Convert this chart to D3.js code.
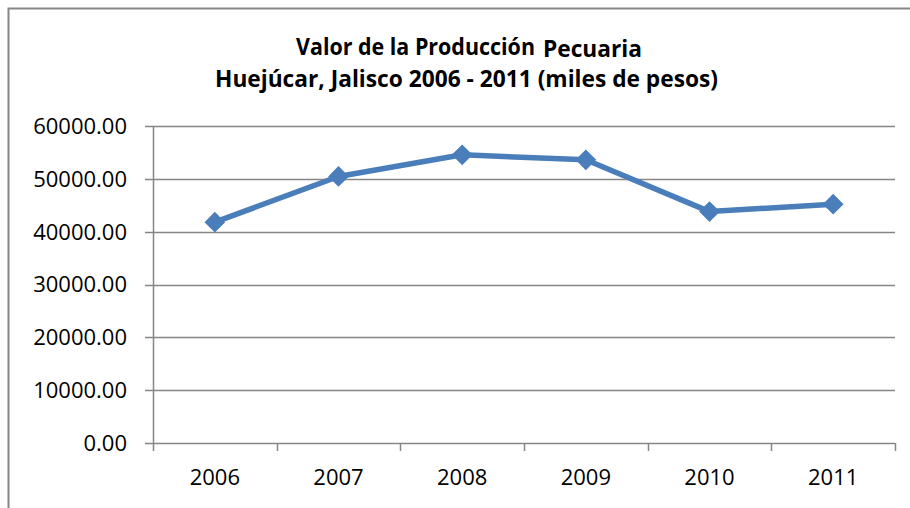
<!DOCTYPE html>
<html>
<head>
<meta charset="utf-8">
<script src="https://cdn.jsdelivr.net/npm/d3@7"></script>
<style>
  body { margin: 0; background: #fff; }
  svg { display: block; font-family: "Open Sans", sans-serif; }
</style>
</head>
<body>
<div id="chart-container"></div>
<script>
const years = ['2006', '2007', '2008', '2009', '2010', '2011']
const valores = [41800, 50450, 54550, 53600, 43800, 45200]
const yTicks = [0, 10000, 20000, 30000, 40000, 50000, 60000]

const width = 910
const height = 508
const margin = { top: 126, right: 15, bottom: 65, left: 153 }

const svg = d3.select('#chart-container')
  .append('svg')
  .attr('width', width)
  .attr('height', height)

// chart border (only left and top visible in the original)
svg.append('rect')
  .attr('x', 8.5).attr('y', 8.5)
  .attr('width', width + 20).attr('height', height + 20)
  .attr('fill', 'none')
  .attr('stroke', '#868686')
  .attr('stroke-width', 2)

// title
const title = svg.append('g').attr('font-weight', 'bold').attr('fill', '#000')
title.append('text')
  .attr('x', 296).attr('y', 55)
  .attr('font-size', 22.5)
  .attr('textLength', 239).attr('lengthAdjust', 'spacingAndGlyphs')
  .text('Valor de la Producción')
title.append('text')
  .attr('x', 543).attr('y', 57)
  .attr('font-size', 23.5)
  .attr('textLength', 99).attr('lengthAdjust', 'spacingAndGlyphs')
  .text('Pecuaria')
title.append('text')
  .attr('x', 215).attr('y', 87)
  .attr('font-size', 22.5)
  .attr('textLength', 503).attr('lengthAdjust', 'spacingAndGlyphs')
  .text('Huejúcar, Jalisco 2006 - 2011 (miles de pesos)')

const xScale = d3.scaleBand()
  .domain(years)
  .range([margin.left, width - margin.right])

const yScale = d3.scaleLinear()
  .domain([0, 60000])
  .range([height - margin.bottom, margin.top])

// gridlines
svg.append('g')
  .selectAll('line')
  .data(yTicks)
  .enter()
  .append('line')
  .attr('x1', margin.left - 8)
  .attr('x2', width - margin.right)
  .attr('y1', d => Math.round(yScale(d)) + 0.5)
  .attr('y2', d => Math.round(yScale(d)) + 0.5)
  .attr('stroke', '#868686')
  .attr('stroke-width', 1.5)

// y axis line
svg.append('line')
  .attr('x1', margin.left + 0.5).attr('x2', margin.left + 0.5)
  .attr('y1', yScale(60000)).attr('y2', yScale(0))
  .attr('stroke', '#868686')
  .attr('stroke-width', 1.5)

// y labels
svg.append('g')
  .selectAll('text')
  .data(yTicks)
  .enter()
  .append('text')
  .attr('x', 127)
  .attr('y', d => yScale(d))
  .attr('dy', '0.36em')
  .attr('text-anchor', 'end')
  .attr('font-size', 22)
  .attr('fill', '#000')
  .text(d => d3.format('.2f')(d))

// x ticks at band boundaries
const bounds = years.map(d => xScale(d)).concat([xScale(years[years.length - 1]) + xScale.bandwidth()])
svg.append('g')
  .selectAll('line')
  .data(bounds)
  .enter()
  .append('line')
  .attr('x1', d => Math.round(d) + 0.5)
  .attr('x2', d => Math.round(d) + 0.5)
  .attr('y1', yScale(0))
  .attr('y2', yScale(0) + 8)
  .attr('stroke', '#868686')
  .attr('stroke-width', 1.5)

// x labels
svg.append('g')
  .selectAll('text')
  .data(years)
  .enter()
  .append('text')
  .attr('x', d => xScale(d) + xScale.bandwidth() / 2)
  .attr('y', 485)
  .attr('text-anchor', 'middle')
  .attr('font-size', 22)
  .attr('fill', '#000')
  .text(d => d)

const data = years.map((y, i) => ({ year: y, value: valores[i] }))
const cx = d => xScale(d.year) + xScale.bandwidth() / 2

// series line
svg.append('path')
  .datum(data)
  .attr('d', d3.line().x(cx).y(d => yScale(d.value)))
  .attr('fill', 'none')
  .attr('stroke', '#4A7EBB')
  .attr('stroke-width', 5.5)
  .attr('stroke-linejoin', 'round')

// diamond markers
svg.append('g')
  .selectAll('path')
  .data(data)
  .enter()
  .append('path')
  .attr('d', d3.symbol(d3.symbolSquare, 215))
  .attr('transform', d => `translate(${cx(d)},${yScale(d.value)}) rotate(45)`)
  .attr('fill', '#4A7EBB')
</script>
</body>
</html>
